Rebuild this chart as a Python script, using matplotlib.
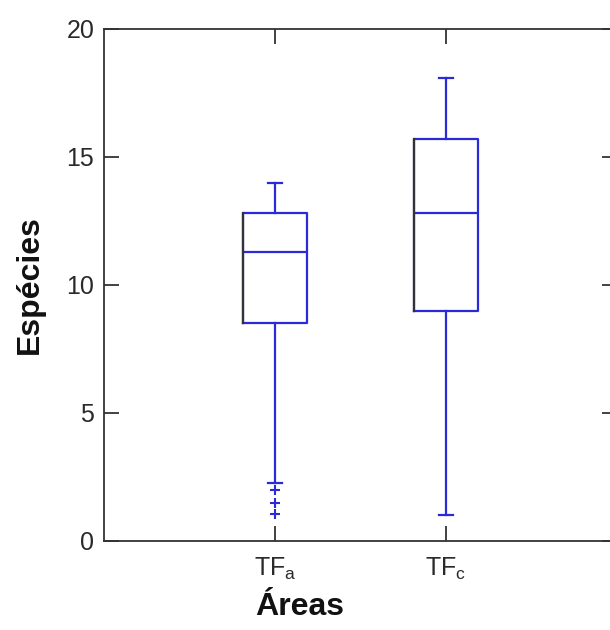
import matplotlib
matplotlib.use("Agg")
import matplotlib.pyplot as plt

plt.rcParams['font.family'] = ['Liberation Sans', 'DejaVu Sans']
plt.rcParams['mathtext.fontset'] = 'custom'
plt.rcParams['mathtext.rm'] = 'Liberation Sans'

categories = [r'$\mathrm{TF_a}$', r'$\mathrm{TF_c}$']
q1 = [8.5, 9.0]
median = [11.3, 12.8]
q3 = [12.8, 15.7]
whisker_low = [2.25, 1.0]
whisker_high = [14.0, 18.1]
outliers = [[2.0, 1.5, 1.05], []]
yticks = [0, 5, 10, 15, 20]

blue = '#2a2ad8'
dark = '#333333'

fig = plt.figure(figsize=(6.1, 6.3), dpi=100)
ax = fig.add_axes([104/610, 1 - 541/630, (617-104)/610, (541-29)/630])

stats = []
for i in range(len(categories)):
    stats.append(dict(q1=q1[i], med=median[i], q3=q3[i], whislo=whisker_low[i],
                      whishi=whisker_high[i], fliers=outliers[i], label=categories[i]))

res = ax.bxp(stats, positions=[1, 2], widths=0.38, showfliers=True,
             boxprops=dict(color=blue, linewidth=1.6),
             medianprops=dict(color=blue, linewidth=1.6),
             whiskerprops=dict(color=blue, linewidth=1.6),
             capprops=dict(color=blue, linewidth=1.6),
             capwidths=0.08,
             flierprops=dict(marker='+', markeredgecolor=blue, markersize=7,
                             markeredgewidth=1.5, linestyle='none'))
# dark left edge of boxes
for b in res['boxes']:
    xd = b.get_xdata(); yd = b.get_ydata()
    ax.plot([xd[0], xd[0]], [min(yd), max(yd)], color=dark, lw=1.6, zorder=3)

ax.set_xlim(0, 3)
ax.set_ylim(0, 20)
ax.set_yticks(yticks)
ax.set_xticks([1, 2])
ax.set_xticklabels(categories)
for s in ax.spines.values():
    s.set_color(dark)
    s.set_linewidth(1.3)
ax.tick_params(axis='both', direction='in', length=11, width=1.3, color=dark,
               labelsize=18, labelcolor='#2a2a2a')
ax.tick_params(axis='y', right=True, pad=7)
ax.tick_params(axis='x', top=True, pad=11)

ax.set_xlabel('Áreas', fontsize=23, fontweight='bold', color='#111111')
ax.set_ylabel('Espécies', fontsize=23, fontweight='bold', color='#111111')
ax.xaxis.set_label_coords((300-104)/(617-104), (541-592)/(541-29))
ax.yaxis.set_label_coords((45-104)/(617-104), 0.5)

fig.savefig('out.png', dpi=100)
